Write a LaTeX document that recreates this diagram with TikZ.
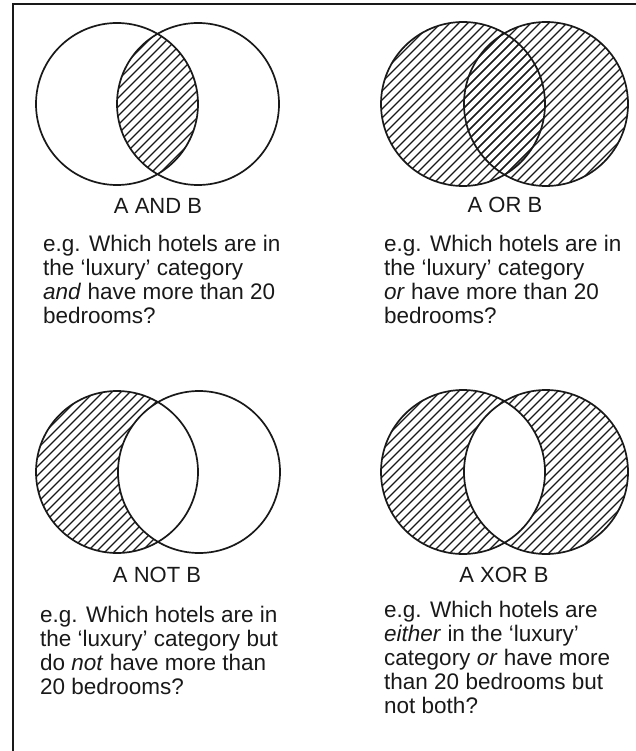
\documentclass[tikz,border=0pt]{standalone}
\usepackage{fontspec}
\setmainfont{Liberation Sans}
\usepackage{tikz}
\usetikzlibrary{positioning}
\usepackage{xcolor}
\definecolor{ink}{RGB}{25,25,25}
\definecolor{paper}{RGB}{255,255,255}
\tikzset{
  % Set outline
  ring/.style={
    draw=ink, line width=1.7pt, fill=none
  },
  % Thin hatch stroke
  hatchline/.style={
    draw=ink, line width=1.1pt
  },
  % Operator caption under each diagram
  opname/.style={
    anchor=base, inner sep=0pt, text=ink,
    font=\fontsize{22}{24}\selectfont
  },
  % Example question
  question/.style={
    anchor=north west, inner sep=0pt, align=left, text=ink,
    font=\fontsize{22.5}{24}\selectfont
  },
  % Border of the figure
  frameline/.style={
    draw=ink, line width=2.2pt
  },
}
% hatch lines around a panel centre (#1,#2)
\newcommand\hatchfill[2]{%
  \foreach \d in {-270,-261,...,270}
    \draw[hatchline] ({#1+\d-220},{#2+220}) -- ++(440,-440);}

\begin{document}
\begin{tikzpicture}[x=1pt, y=-1pt]

\useasboundingbox (0,0) rectangle (636,751);

%% ── FRAME ────────────────────────────────────────────────────────────────

\draw[frameline] (13,751) -- (13,4) -- (636,4);

%% ── PANEL 1: A AND B ─────────────────────────────────────────────────────

\begin{scope}
  \clip (117,104) circle (81);
  \clip (198,104) circle (81);
  \hatchfill{157}{104}
\end{scope}
\draw[ring] (117,104) circle (81);
\draw[ring] (198,104) circle (81);

\node[opname] (andname) at (158,214) {A AND B};
\node[question] (andq) at (43,234.5)
  {e.g. Which hotels are in\\the `luxury' category\\\textit{and} have more than 20\\bedrooms?};

%% ── PANEL 2: A OR B ──────────────────────────────────────────────────────

\begin{scope}
  \clip (463,104) circle (82);
  \hatchfill{504}{104}
\end{scope}
\begin{scope}
  \clip (546,104) circle (82);
  \hatchfill{504}{104}
\end{scope}
\draw[ring] (463,104) circle (82);
\draw[ring] (546,104) circle (82);

\node[opname] (orname) at (505,213) {A OR B};
\node[question] (orq) at (384,234.5)
  {e.g. Which hotels are in\\the `luxury' category\\\textit{or} have more than 20\\bedrooms?};

%% ── PANEL 3: A NOT B ─────────────────────────────────────────────────────

\begin{scope}
  \clip (117,472) circle (81);
  \hatchfill{158}{472}
  \fill[paper] (199,472) circle (81);
\end{scope}
\draw[ring] (117,472) circle (81);
\draw[ring] (199,472) circle (81);

\node[opname] (notname) at (157,582) {A NOT B};
\node[question] (notq) at (40,605.5)
  {e.g. Which hotels are in\\the `luxury' category but\\do \textit{not} have more than\\20 bedrooms?};

%% ── PANEL 4: A XOR B ─────────────────────────────────────────────────────

\begin{scope}
  \clip (463,472) circle (82);
  \hatchfill{504}{472}
\end{scope}
\begin{scope}
  \clip (546,472) circle (82);
  \hatchfill{504}{472}
\end{scope}
\begin{scope}
  \clip (463,472) circle (82);
  \fill[paper] (546,472) circle (82);
\end{scope}
\draw[ring] (463,472) circle (82);
\draw[ring] (546,472) circle (82);

\node[opname] (xorname) at (504,582) {A XOR B};
\node[question] (xorq) at (384,601)
  {e.g. Which hotels are\\\textit{either} in the `luxury'\\category \textit{or} have more\\than 20 bedrooms but\\not both?};

\end{tikzpicture}
\end{document}
